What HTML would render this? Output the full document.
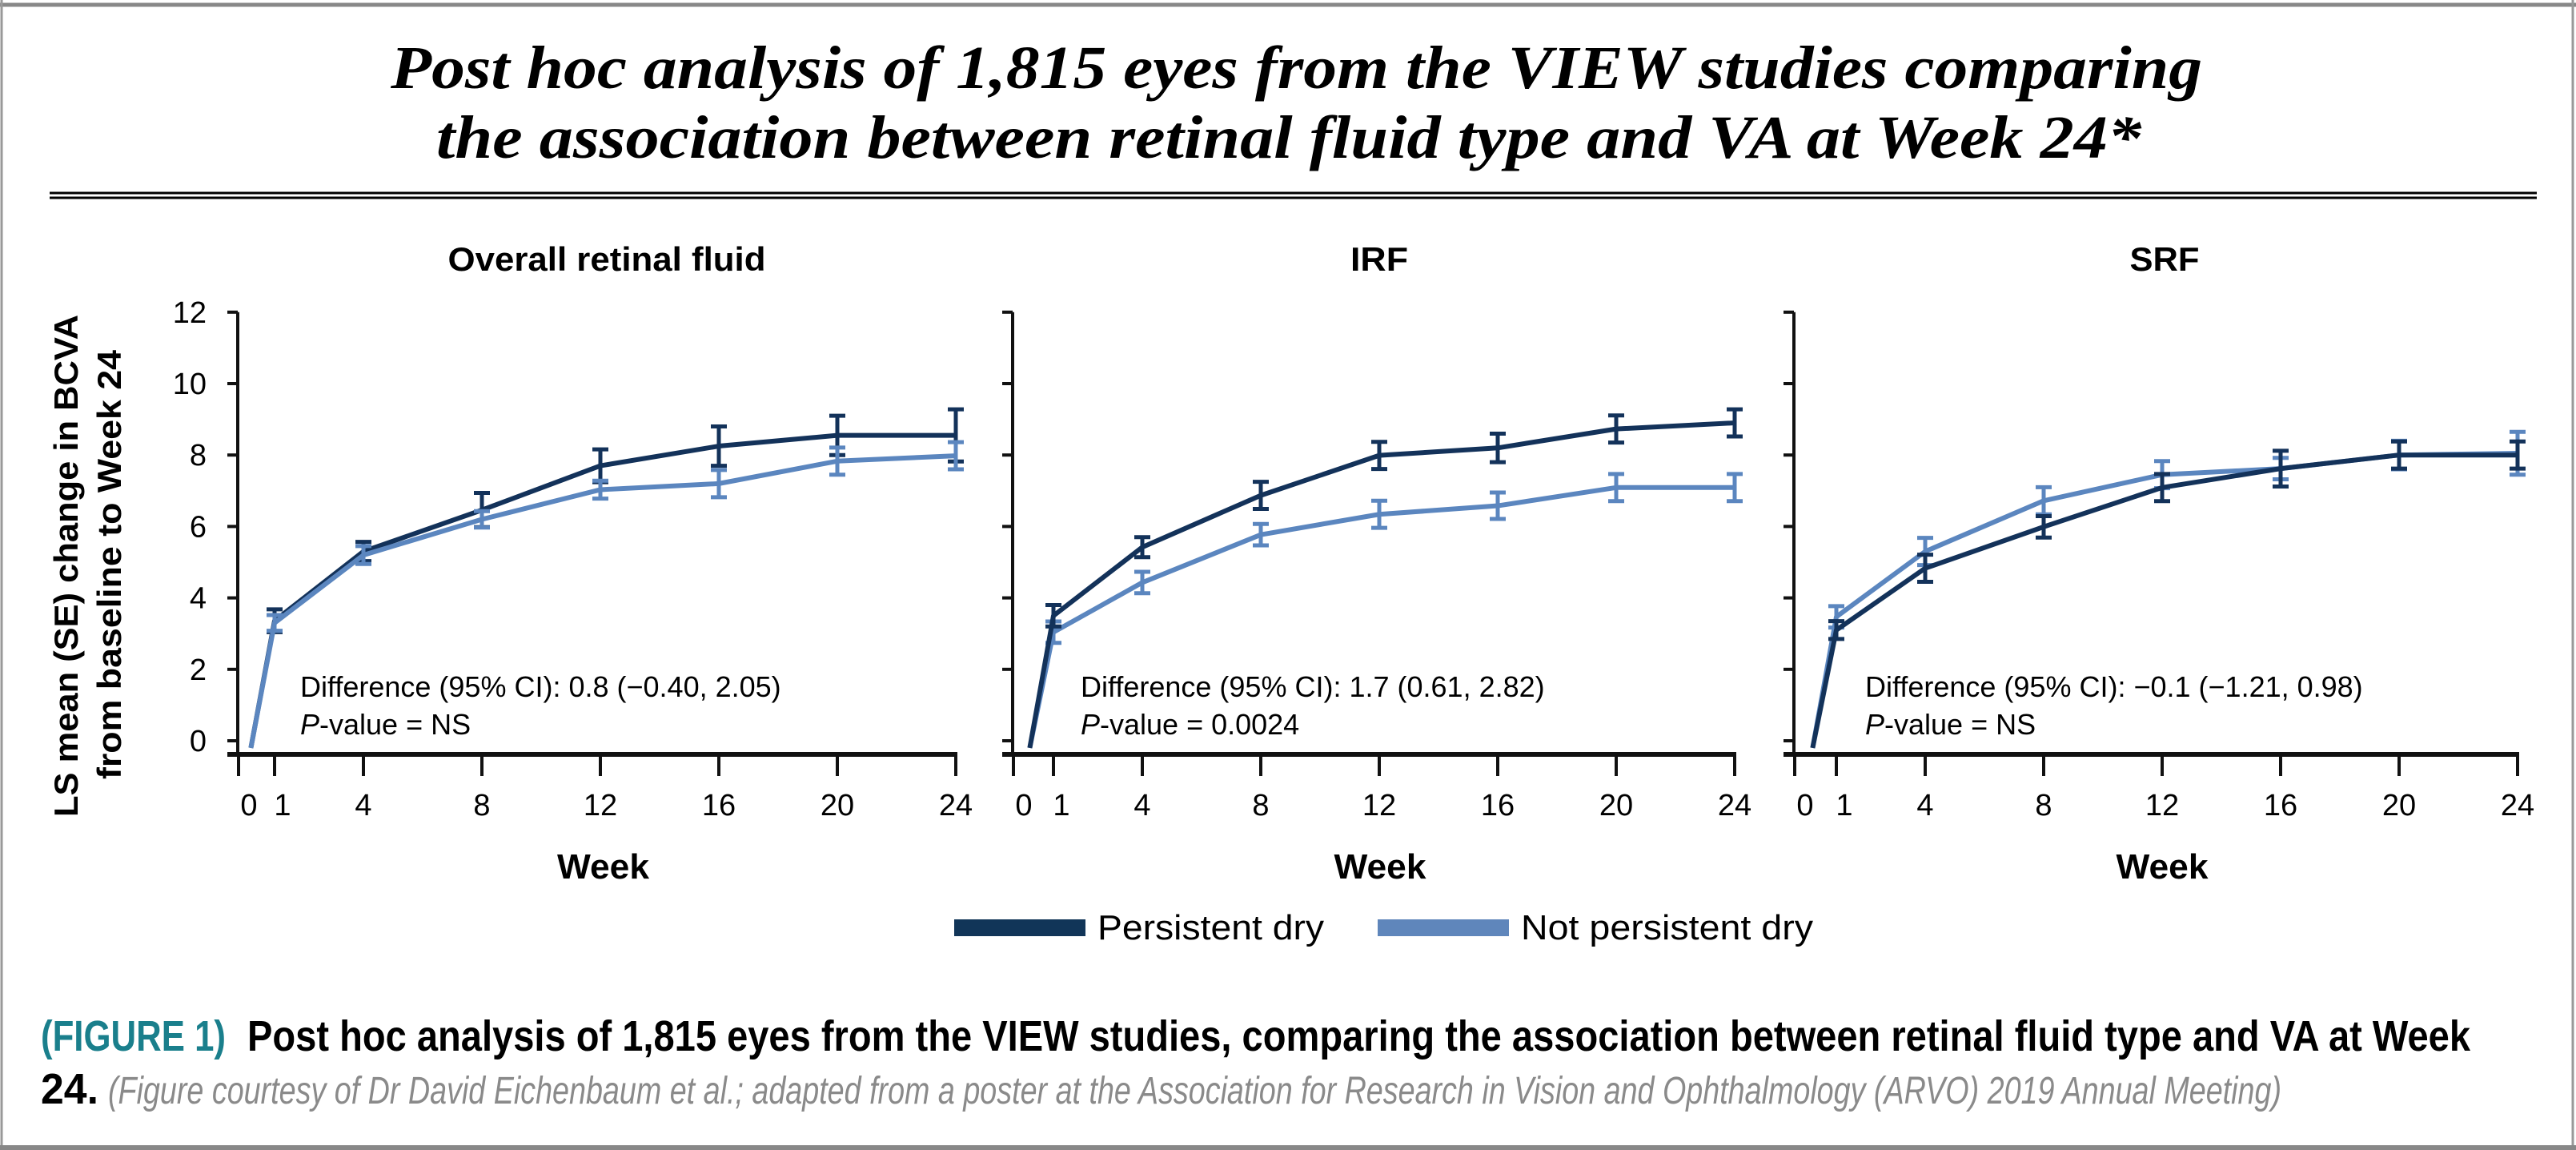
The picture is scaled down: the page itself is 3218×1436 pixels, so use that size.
<!DOCTYPE html>
<html><head><meta charset="utf-8"><style>
html,body{margin:0;padding:0;background:#fff;}
svg{display:block;}
</style></head><body>
<svg id="fig" xmlns="http://www.w3.org/2000/svg" width="3218" height="1436" viewBox="0 0 3218 1436">
<rect x="0" y="0" width="3218" height="1436" fill="#fff"/>
<line x1="0" y1="6" x2="3218" y2="6" stroke="#888" stroke-width="5"/>
<line x1="2" y1="0" x2="2" y2="1436" stroke="#999" stroke-width="3"/>
<line x1="3214" y1="0" x2="3214" y2="1436" stroke="#999" stroke-width="3"/>
<line x1="0" y1="1433" x2="3218" y2="1433" stroke="#888" stroke-width="6"/>
<g font-family="'Liberation Serif', serif" font-weight="bold" font-style="italic" font-size="76" fill="#000">
<text x="488" y="110" textLength="2263" lengthAdjust="spacingAndGlyphs">Post hoc analysis of 1,815 eyes from the VIEW studies comparing</text>
<text x="545" y="197" textLength="2130" lengthAdjust="spacingAndGlyphs">the association between retinal fluid type and VA at Week 24*</text>
</g>
<line x1="62" y1="241" x2="3169" y2="241" stroke="#000" stroke-width="3"/>
<line x1="62" y1="247" x2="3169" y2="247" stroke="#000" stroke-width="3"/>
<g font-family="'Liberation Sans', sans-serif" font-weight="bold" font-size="42" fill="#000">
<text transform="translate(97,1020) rotate(-90)" textLength="627" lengthAdjust="spacingAndGlyphs">LS mean (SE) change in BCVA</text>
<text transform="translate(151,973) rotate(-90)" textLength="536" lengthAdjust="spacingAndGlyphs">from baseline to Week 24</text>
</g>
<g id="panels"></g>
<g font-family="'Liberation Sans', sans-serif" font-size="44" fill="#000">
<rect x="1192" y="1148" width="164" height="21" fill="#113558"/>
<text x="1371" y="1173" textLength="283" lengthAdjust="spacingAndGlyphs">Persistent dry</text>
<rect x="1721" y="1148" width="164" height="21" fill="#5f86bb"/>
<text x="1900" y="1173" textLength="365" lengthAdjust="spacingAndGlyphs">Not persistent dry</text>
</g>
<g font-family="'Liberation Sans Narrow','Liberation Sans', sans-serif">
<text x="51" y="1312" font-size="54" font-weight="bold" fill="#1a7f8c" textLength="231" lengthAdjust="spacingAndGlyphs">(FIGURE 1)</text>
<text x="309" y="1312" font-size="54" font-weight="bold" fill="#000" textLength="2777" lengthAdjust="spacingAndGlyphs">Post hoc analysis of 1,815 eyes from the VIEW studies, comparing the association between retinal fluid type and VA at Week</text>
<text x="51" y="1378" font-size="54" font-weight="bold" fill="#000" textLength="72" lengthAdjust="spacingAndGlyphs">24.</text>
<text x="135" y="1378" font-size="48" font-style="italic" fill="#8a8a8a" textLength="2715" lengthAdjust="spacingAndGlyphs">(Figure courtesy of Dr David Eichenbaum et al.; adapted from a poster at the Association for Research in Vision and Ophthalmology (ARVO) 2019 Annual Meeting)</text>
</g>
</svg>
<script>
const weeks = [1, 4, 8, 12, 16, 20, 24];
const xTickLabels = ["0", "1", "4", "8", "12", "16", "20", "24"];
const yTicks = [0, 2, 4, 6, 8, 10, 12];
const panelTitles = ["Overall retinal fluid", "IRF", "SRF"];
const diffTexts = ["Difference (95% CI): 0.8 (\u22120.40, 2.05)", "Difference (95% CI): 1.7 (0.61, 2.82)", "Difference (95% CI): \u22120.1 (\u22121.21, 0.98)"];
const pTexts = ["NS", "0.0024", "NS"];
const overallDry = [3.36, 5.3, 6.46, 7.7, 8.25, 8.55, 8.55];
const overallDrySE = [0.32, 0.27, 0.48, 0.46, 0.55, 0.55, 0.73];
const overallWet = [3.3, 5.2, 6.2, 7.03, 7.2, 7.83, 7.98];
const overallWetSE = [0.22, 0.25, 0.23, 0.25, 0.38, 0.38, 0.38];
const irfDry = [3.5, 5.42, 6.87, 7.99, 8.2, 8.73, 8.9];
const irfDrySE = [0.3, 0.28, 0.38, 0.38, 0.4, 0.38, 0.38];
const irfWet = [3.04, 4.43, 5.77, 6.34, 6.58, 7.09, 7.09];
const irfWetSE = [0.3, 0.3, 0.3, 0.38, 0.37, 0.38, 0.38];
const srfDry = [3.1, 4.83, 5.99, 7.09, 7.62, 8.0, 8.0];
const srfDrySE = [0.25, 0.38, 0.3, 0.38, 0.5, 0.38, 0.38];
const srfWet = [3.47, 5.3, 6.72, 7.45, 7.62, 8.0, 8.05];
const srfWetSE = [0.3, 0.38, 0.38, 0.38, 0.3, 0.4, 0.6];
const startValue = -0.2;
const startWeek = 0.2;

const NS = "http://www.w3.org/2000/svg";
const root = document.getElementById('panels');
const geo = [
  {axisX: 297, w1: 343, textX: 375, labels: true},
  {axisX: 1265, w1: 1316, textX: 1350, labels: false},
  {axisX: 2241, w1: 2294, textX: 2330, labels: false}
];
const series = [
  [[overallDry, overallDrySE], [overallWet, overallWetSE]],
  [[irfDry, irfDrySE], [irfWet, irfWetSE]],
  [[srfDry, srfDrySE], [srfWet, srfWetSE]]
];
const titleCenters = [758, 1723, 2704];
const titleWidths = [397, 72, 87];
const colors = ["#13325a", "#5b86bf"];
const weekStep = 37;
function yScale(v) { return 925 - 44.6 * v; }
const axisY = 942;

function mk(tag, attrs, parent) {
  const e = document.createElementNS(NS, tag);
  for (const k in attrs) e.setAttribute(k, attrs[k]);
  parent.appendChild(e);
  return e;
}

geo.forEach((g, pi) => {
  const xScale = w => g.w1 + weekStep * (w - 1);
  const grp = mk('g', {}, root);
  
  

  const t = mk('text', {x: titleCenters[pi], y: 338, 'text-anchor': 'middle', 'font-family': "'Liberation Sans', sans-serif", 'font-weight': 'bold', 'font-size': 42, textLength: titleWidths[pi], lengthAdjust: 'spacingAndGlyphs'}, grp);
  t.textContent = panelTitles[pi];
  
  

  const ya = mk('line', {x1: g.axisX, y1: yScale(12), x2: g.axisX, y2: axisY, stroke: '#111', 'stroke-width': 4}, grp);
  
  
  yTicks.forEach(v => {
    const tk = mk('line', {x1: g.axisX - 13, y1: yScale(v), x2: g.axisX, y2: yScale(v), stroke: '#111', 'stroke-width': 4}, grp);
    
    
    if (g.labels) {
      const lb = mk('text', {x: 258, y: yScale(v) + 13, 'text-anchor': 'end', 'font-family': "'Liberation Sans', sans-serif", 'font-size': 38}, grp);
      lb.textContent = String(v);
      
      
    }
  });
  const xa = mk('line', {x1: g.axisX - 13, y1: axisY, x2: xScale(24) + 2, y2: axisY, stroke: '#111', 'stroke-width': 6}, grp);
  
  
  const tickWeeks = [0].concat(weeks);
  tickWeeks.forEach((w, i) => {
    const tx = w === 0 ? g.axisX + 1 : xScale(w);
    const tk = mk('line', {x1: tx, y1: axisY, x2: tx, y2: axisY + 27, stroke: '#111', 'stroke-width': 4}, grp);
    
    
    let lx = tx;
    if (w === 0) lx = tx + 13;
    if (w === 1) lx = tx + 10;
    const lb = mk('text', {x: lx, y: 1018, 'text-anchor': 'middle', 'font-family': "'Liberation Sans', sans-serif", 'font-size': 38}, grp);
    lb.textContent = xTickLabels[i];
    
    
  });
  const wk = mk('text', {x: (g.axisX + xScale(24)) / 2 + 8, y: 1097, 'text-anchor': 'middle', 'font-family': "'Liberation Sans', sans-serif", 'font-weight': 'bold', 'font-size': 44, textLength: 115, lengthAdjust: 'spacingAndGlyphs'}, grp);
  wk.textContent = 'Week';
  
  

  const d1 = mk('text', {x: g.textX, y: 870, 'font-family': "'Liberation Sans', sans-serif", 'font-size': 36}, grp);
  d1.textContent = diffTexts[pi];
  
  
  const d2 = mk('text', {x: g.textX, y: 917, 'font-family': "'Liberation Sans', sans-serif", 'font-size': 36}, grp);
  const ip = mk('tspan', {'font-style': 'italic'}, d2);
  ip.textContent = 'P';
  const rest = mk('tspan', {}, d2);
  rest.textContent = '-value = ' + pTexts[pi];
  
  

  // draw light series first? order: persistent dry line under? draw wet then dry error bars
  const order = pi === 0 ? [0, 1] : [1, 0];
  order.forEach(si => {
    const [vals, se] = series[pi][si];
    const pts = [[xScale(startWeek), yScale(startValue)]].concat(weeks.map((w, i) => [xScale(w), yScale(vals[i])]));
    const pl = mk('polyline', {points: pts.map(p => p.join(',')).join(' '), fill: 'none', stroke: colors[si], 'stroke-width': si === 0 ? 6 : 6, 'stroke-linejoin': 'round'}, grp);
    
    
    weeks.forEach((w, i) => {
      const x = xScale(w), hi = yScale(vals[i] + se[i]), lo = yScale(vals[i] - se[i]);
      const eb = mk('path', {d: `M${x},${hi}V${lo}M${x - 10},${hi}H${x + 10}M${x - 10},${lo}H${x + 10}`, stroke: colors[si], 'stroke-width': 5, fill: 'none'}, grp);
      
      
    });
  });
});
</script>
</body></html>
